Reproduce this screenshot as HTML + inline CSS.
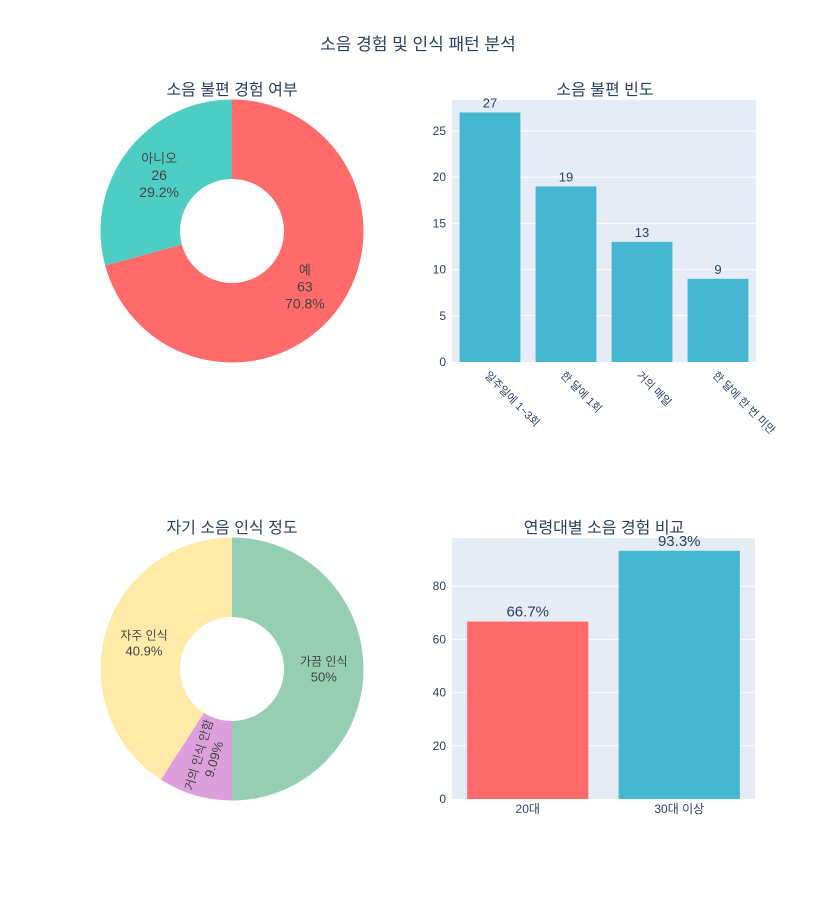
<!DOCTYPE html>
<html><head><meta charset="utf-8">
<style>
body{margin:0;background:#fff;}
svg{display:block;font-family:"Liberation Sans","Noto Sans CJK KR",sans-serif;}
</style></head>
<body>
<svg id="c" width="836" height="900" viewBox="0 0 836 900">
<rect width="836" height="900" fill="#fff"/>
<text x="418" y="50" text-anchor="middle" font-size="17" fill="#2a3f5f">소음 경험 및 인식 패턴 분석</text>
<text x="232" y="95" text-anchor="middle" font-size="16" fill="#2a3f5f">소음 불편 경험 여부</text>
<text x="605" y="95" text-anchor="middle" font-size="16" fill="#2a3f5f">소음 불편 빈도</text>
<text x="232" y="533" text-anchor="middle" font-size="16" fill="#2a3f5f">자기 소음 인식 정도</text>
<text x="604" y="533" text-anchor="middle" font-size="16" fill="#2a3f5f">연령대별 소음 경험 비교</text>
<g id="g"></g>
</svg>
<script>
const pie1Labels=["예","아니오"];
const pie1Values=[63,26];
const pie1Colors=["#FF6B6B","#4ECDC4"];
const pie2Labels=["가끔 인식","거의 인식 안함","자주 인식"];
const pie2Values=[11,2,9];
const pie2Colors=["#96CEB4","#DDA0DD","#FFEAA7"];
const bar1Cats=["일주일에 1~3회","한 달에 1회","거의 매일","한 달에 한 번 미만"];
const bar1Vals=[27,19,13,9];
const bar1Ticks=[0,5,10,15,20,25];
const bar2Cats=["20대","30대 이상"];
const bar2Vals=[66.7,93.3];
const bar2Ticks=[0,20,40,60,80];
const bar2Colors=["#FF6B6B","#45B7D1"];

const NS="http://www.w3.org/2000/svg";
const G=document.getElementById('g');
function el(t,a,p){const e=document.createElementNS(NS,t);for(const k in a)e.setAttribute(k,a[k]);(p||G).appendChild(e);return e;}
function fmt(p){let s=(p*100).toPrecision(3);s=String(parseFloat(s));return s+"%";}

function pie(cx,cy,R,r,labels,vals,cols,showVal,fs,name){
  const tot=vals.reduce((a,b)=>a+b,0);let a0=0;
  vals.forEach((v,i)=>{
    const f=v/tot,a1=a0+f*2*Math.PI;
    const P=(rad,a)=>[cx+rad*Math.sin(a),cy-rad*Math.cos(a)];
    const [x0,y0]=P(R,a0),[x1,y1]=P(R,a1),[x2,y2]=P(r,a1),[x3,y3]=P(r,a0);
    const lg=f>0.5?1:0;
    const s=el('path',{d:`M${x0},${y0}A${R},${R} 0 ${lg} 1 ${x1},${y1}L${x2},${y2}A${r},${r} 0 ${lg} 0 ${x3},${y3}Z`,fill:cols[i]});
    
    
    const am=(a0+a1)/2,[tx,ty]=P((R+r)/2,am);
    const lines=showVal?[labels[i],String(v),fmt(f)]:[labels[i],fmt(f)];
    const lh=fs+3;
    const g=el('g',{});
    
    
    if(f<0.15){
      let deg=am*180/Math.PI-90;if(deg>90)deg-=180;if(deg<-90)deg+=180;
      g.setAttribute('transform',`translate(${tx},${ty}) rotate(${deg})`);
    } else g.setAttribute('transform',`translate(${tx},${ty})`);
    lines.forEach((l,j)=>{const t=el('text',{x:0,y:(j-(lines.length-1)/2)*lh+fs*0.35,'text-anchor':'middle','font-size':(j==0?fs-1:fs),fill:'#444'},g);t.textContent=l;});
    a0=a1;
  });
}
pie(232,231,131.5,52,pie1Labels,pie1Values,pie1Colors,true,14,'pie1');
pie(232,669,131.5,52,pie2Labels,pie2Values,pie2Colors,false,13,'pie2');

function bars(x0,x1,yB,yT,ymax,cats,vals,ticks,cols,lblFmt,lblSize,rot,name){
  el('rect',{x:x0,y:yT,width:x1-x0,height:yB-yT,fill:'#E5ECF6'});
  const Y=v=>yB-(v/ymax)*(yB-yT);
  ticks.forEach(t=>{
    if(t>0)el('line',{x1:x0,x2:x1,y1:Y(t),y2:Y(t),stroke:'#fff','stroke-width':1});
    const tx=el('text',{x:x0-6,y:Y(t)+4,'text-anchor':'end','font-size':12,fill:'#2a3f5f'});tx.textContent=t;
    
    
  });
  const band=(x1-x0)/cats.length,bw=band*0.8;
  cats.forEach((c,i)=>{
    const cx=x0+band*(i+0.5);
    const r=el('rect',{x:cx-bw/2,y:Y(vals[i]),width:bw,height:yB-Y(vals[i]),fill:cols[i%cols.length]});
    
    
    const vt=el('text',{x:cx,y:Y(vals[i])-5,'text-anchor':'middle','font-size':lblSize,fill:'#2a3f5f'});vt.textContent=lblFmt(vals[i]);
    
    
    let ct;
    if(rot){ct=el('text',{x:cx-6,y:yB+14,'font-size':11,fill:'#2a3f5f',transform:`rotate(45 ${cx-6} ${yB+14})`});}
    else ct=el('text',{x:cx,y:yB+14,'text-anchor':'middle','font-size':12,fill:'#2a3f5f'});
    ct.textContent=c;
    
    
  });
}
bars(452,756,362,100,28.35,bar1Cats,bar1Vals,bar1Ticks,["#45B7D1"],v=>String(v),13,true,'bar1');
bars(452,755,799,538,98.1,bar2Cats,bar2Vals,bar2Ticks,bar2Colors,v=>v.toFixed(1)+"%",15,false,'bar2');
</script>
</body></html>
